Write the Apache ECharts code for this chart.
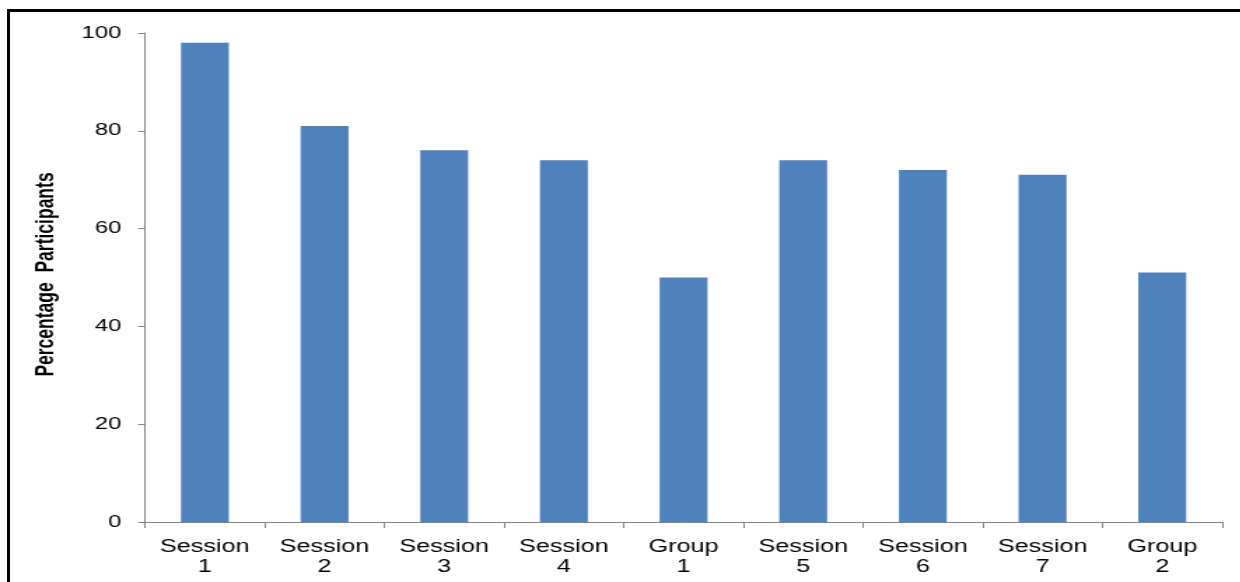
<!DOCTYPE html>
<html>
<head>
<meta charset="utf-8">
<script src="https://cdn.jsdelivr.net/npm/echarts@6/dist/echarts.min.js"></script>
<style>
  html, body { margin: 0; padding: 0; background: #fff; overflow: hidden; }
  #wrap { position: relative; width: 1240px; height: 582px; overflow: hidden; }
  /* chart is laid out narrow, then widened horizontally */
  #chart { position: absolute; left: 0; top: 0; width: 886px; height: 582px;
           transform: scaleX(1.4); transform-origin: 0 0; }
  #frame { position: absolute; left: 7px; top: 9px; width: 1300px; height: 700px;
           border-top: 3px solid #000; border-left: 3px solid #000; pointer-events: none; }
</style>
</head>
<body>
<div id="wrap">
  <div id="chart"></div>
  <div id="frame"></div>
</div>
<script>
// Share of participants attending each session / group meeting
const categories = ['Session\n1', 'Session\n2', 'Session\n3', 'Session\n4', 'Group\n1',
                    'Session\n5', 'Session\n6', 'Session\n7', 'Group\n2'];
const percentages = [98, 81, 76, 74, 50, 74, 72, 71, 51];
const yTicks = { min: 0, max: 100, interval: 20 };
const yTitle = 'Percentage  Participants';

const chart = echarts.init(document.getElementById('chart'), null, { renderer: 'canvas' });
const axisGray = '#868686';

chart.setOption({
  animation: false,
  backgroundColor: 'transparent',
  grid: { left: 103.6, right: 13.1, top: 33, bottom: 60, containLabel: false },
  xAxis: {
    type: 'category',
    data: categories,
    axisLine: { lineStyle: { color: axisGray, width: 1 } },
    axisTick: { show: true, alignWithLabel: false, length: 6, lineStyle: { color: axisGray } },
    axisLabel: {
      interval: 0, margin: 15, color: '#000',
      fontFamily: 'Liberation Sans, Arial, sans-serif', fontSize: 18, lineHeight: 20
    },
    splitLine: { show: false }
  },
  yAxis: {
    type: 'value',
    min: yTicks.min, max: yTicks.max, interval: yTicks.interval,
    name: yTitle,
    nameLocation: 'middle',
    nameRotate: 90,
    nameGap: 61,
    nameTextStyle: {
      color: '#000', fontFamily: 'Liberation Sans, Arial, sans-serif',
      fontWeight: 'bold', fontSize: 17.5, padding: [0, 0, 0, 6]
    },
    axisLine: { show: true, lineStyle: { color: axisGray, width: 1 } },
    axisTick: { show: true, length: 5, lineStyle: { color: axisGray } },
    axisLabel: {
      margin: 17, color: '#000',
      fontFamily: 'Liberation Sans, Arial, sans-serif', fontSize: 17
    },
    splitLine: { show: false }
  },
  series: [{
    type: 'bar',
    data: percentages,
    barWidth: '40%',
    itemStyle: { color: '#4F81BD' }
  }]
});
</script>
</body>
</html>
